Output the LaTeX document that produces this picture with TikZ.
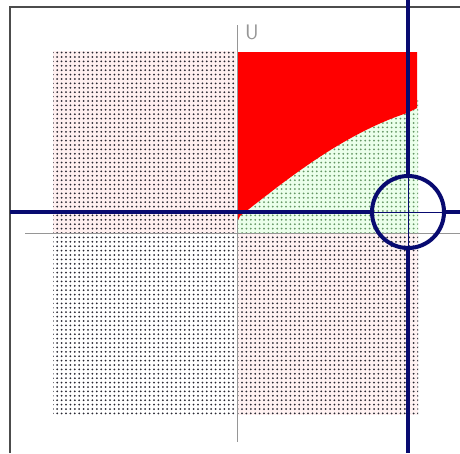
\documentclass[tikz,border=0pt]{standalone}
\usepackage{xcolor}
\usetikzlibrary{patterns.meta}
\definecolor{navy}{RGB}{8,10,112}
\definecolor{axisgray}{RGB}{150,150,150}
\definecolor{dotgray}{RGB}{40,40,50}
\definecolor{dotgreen}{RGB}{100,150,100}

\begin{document}
\begin{tikzpicture}[x=1pt,y=-1pt,
  dotfield/.style={pattern={Dots[distance=4.4pt,radius=1pt]},pattern color=dotgray},
  greenfield/.style={pattern={Dots[distance=4.4pt,radius=1pt]},pattern color=dotgreen},
  thickline/.style={navy,line width=4.5pt},
  thinline/.style={navy,line width=1pt}]
  \useasboundingbox (0,0) rectangle (460,453);

  % frame
  \draw[black!70,line width=1.5pt] (10,453) -- (10,7) -- (460,7);

  % dotted quadrants
  \fill[red!6] (53,51) rectangle (236,233);
  \fill[dotfield] (53,51) rectangle (236,233);
  \fill[dotfield] (53,233) rectangle (236,415);
  \fill[red!5] (237,233) rectangle (418,415);
  \fill[dotfield] (237,233) rectangle (418,415);
  \fill[green!8] (237,100) rectangle (418,233);
  \fill[greenfield] (237,100) rectangle (418,233);

  % red region above the curve
  \fill[red] (237,52) -- (417,52) -- (417,108) -- (407,113)
    .. controls (340,135) and (280,185) .. (240,216)
    -- (237,222) -- cycle;

  % axes
  \draw[axisgray,line width=1pt] (237,25) -- (237,442);
  \draw[axisgray,line width=1pt] (25,233) -- (460,233);
  \node[axisgray,font=\sffamily\fontsize{21}{21}\selectfont,anchor=west,inner sep=0pt] (U) at (245,32) {U};

  % cursor
  \node[draw=navy,line width=4pt,circle,minimum size=72pt,inner sep=0pt] (ring) at (408,212) {};
  \draw[thickline] (10,212) -- (ring.west);
  \draw[thinline] (ring.west) -- (ring.east);
  \draw[thickline] (ring.east) -- (460,212);
  \draw[thickline] (408,0) -- (ring.north);
  \draw[thinline] (ring.north) -- (ring.south);
  \draw[thickline] (ring.south) -- (408,453);
\end{tikzpicture}
\end{document}
